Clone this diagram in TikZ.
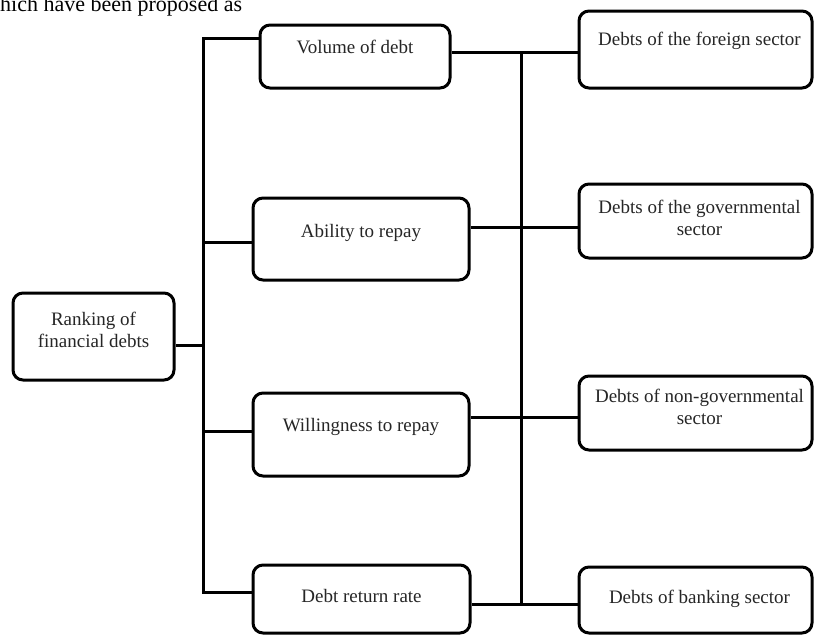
\documentclass[tikz,border=0pt]{standalone}
\usepackage{fontspec}
\setmainfont{Liberation Serif}
\begin{document}
\begin{tikzpicture}[x=1pt,y=-1pt,
  box/.style={draw=black, line width=3pt, rounded corners=10pt, inner sep=0pt, fill=white},
  lbl/.style={font=\fontsize{19}{22}\selectfont, text=black!85, align=center, inner sep=0pt},
  conn/.style={line width=3pt, draw=black}]
\useasboundingbox (0,0) rectangle (814,635);
\clip (0,0) rectangle (814,635);

% cut-off text line at top
\node[font=\fontsize{22}{24}\selectfont, anchor=base west, inner sep=0pt] (toptext) at (0,11) {hich have been proposed as};

% boxes
\node[box, minimum width=161pt, minimum height=87pt] (rank) at (93.5,336.5) {};
\node[box, minimum width=190pt, minimum height=63pt] (vol) at (355,56.5) {};
\node[box, minimum width=216pt, minimum height=82pt] (abil) at (361,239) {};
\node[box, minimum width=216pt, minimum height=83pt] (will) at (361,434.5) {};
\node[box, minimum width=217pt, minimum height=68pt] (ret) at (361.5,599) {};
\node[box, minimum width=233pt, minimum height=77pt] (fore) at (695.5,49.5) {};
\node[box, minimum width=233pt, minimum height=74pt] (gov) at (695.5,221) {};
\node[box, minimum width=233pt, minimum height=74pt] (ngov) at (695.5,413) {};
\node[box, minimum width=233pt, minimum height=66pt] (bank) at (695.5,600) {};

% labels
\node[lbl] (trank) at ([yshift=6.5pt]rank.center) {Ranking of\\financial debts};
\node[lbl] (tvol) at ([yshift=9.5pt]vol.center) {Volume of debt};
\node[lbl] (tabil) at ([yshift=6pt]abil.center) {Ability to repay};
\node[lbl] (twill) at ([yshift=7.5pt]will.center) {Willingness to repay};
\node[lbl] (tret) at ([yshift=3pt]ret.center) {Debt return rate};
\node[lbl] (tfore) at ([xshift=4pt,yshift=8.5pt]fore.center) {Debts of the foreign sector};
\node[lbl] (tgov) at ([xshift=4pt,yshift=3pt]gov.center) {Debts of the governmental\\sector};
\node[lbl] (tngov) at ([xshift=4pt,yshift=6pt]ngov.center) {Debts of non-governmental\\sector};
\node[lbl] (tbank) at ([xshift=4pt,yshift=1pt]bank.center) {Debts of banking sector};

% bus coordinates
\coordinate (LT) at (203,38);
\coordinate (LB) at (203,592);
\coordinate (RT) at (521,52);
\coordinate (RB) at (521,604);

% left tree
\draw[conn] (vol.west |- LT) -- (LT) -- (LB) -- (ret.west |- LB);
\draw[conn] (rank.east |- 0,345) -- (203,345);
\draw[conn] (203,242) -- (abil.west |- 0,242);
\draw[conn] (203,431) -- (will.west |- 0,431);

% right tree
\draw[conn] (vol.east |- RT) -- (fore.west |- RT);
\draw[conn] (RT) -- (RB);
\draw[conn] (abil.east |- 0,227) -- (gov.west |- 0,227);
\draw[conn] (will.east |- 0,417) -- (ngov.west |- 0,417);
\draw[conn] (ret.east |- RB) -- (bank.west |- RB);
\end{tikzpicture}
\end{document}
